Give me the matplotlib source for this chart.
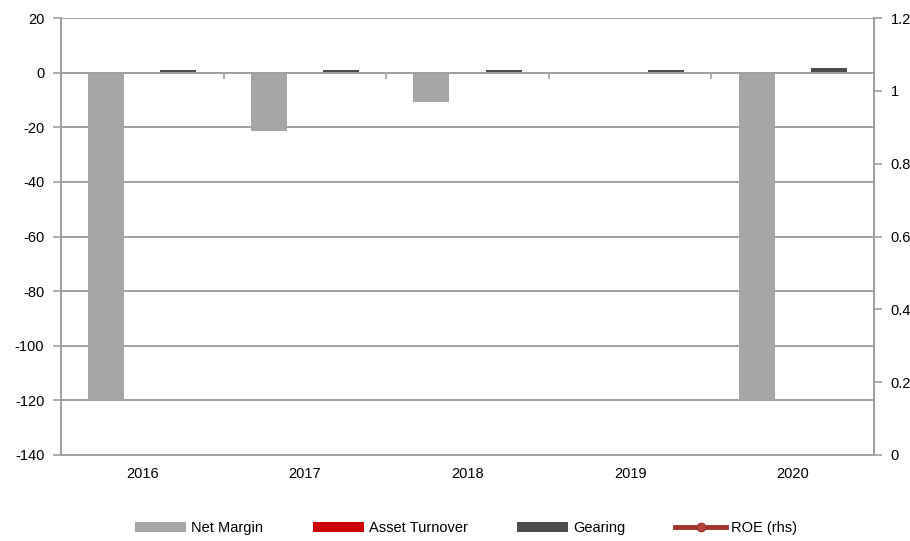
import matplotlib
matplotlib.use("Agg")
import matplotlib.pyplot as plt
import numpy as np
from matplotlib.ticker import FuncFormatter, FixedLocator

plt.rcParams['font.family'] = ['Liberation Sans', 'DejaVu Sans']
plt.rcParams['axes.unicode_minus'] = False

years = ['2016', '2017', '2018', '2019', '2020']
net_margin = [-120.0, -21.2, -10.6, 0.0, -120.0]
asset_turnover = [0.1, 0.2, 0.15, 0.1, 0.05]
gearing = [0.9, 0.9, 0.8, 0.9, 1.6]
roe = [-1.5, -0.3, -0.15, -0.05, -2.0]

left_ticks = list(range(-140, 21, 20))
right_ticks = [0, 0.2, 0.4, 0.6, 0.8, 1.0, 1.2]

c_nm = '#a6a6a6'
c_at = '#cc0000'
c_ge = '#4d4d4d'
c_roe = '#a0362a'
grid_c = '#a0a0a0'

fig = plt.figure(figsize=(9.10, 5.41), dpi=100)
ax = fig.add_axes([61/910, 1-455/541, (874-61)/910, (455-18)/541])
x = np.arange(len(years))
w = 0.222

ax.bar(x - w, net_margin, w, color=c_nm, label='Net Margin', zorder=3)
ax.bar(x, asset_turnover, w, color=c_at, label='Asset Turnover', zorder=3)
ax.bar(x + w, gearing, w, color=c_ge, label='Gearing', zorder=3)

ax.set_ylim(-140, 20)
ax.set_xlim(-0.5, len(years) - 0.5)
ax.yaxis.set_major_locator(FixedLocator(left_ticks))
ax.grid(axis='y', color=grid_c, linewidth=1.4, zorder=0)
ax.set_axisbelow(True)
ax.axhline(-140, color=grid_c, linewidth=1.4, clip_on=False, zorder=1)

ax.spines['top'].set_visible(False)
for s in ['left', 'right', 'bottom']:
    ax.spines[s].set_color(grid_c)
    ax.spines[s].set_linewidth(1.4)
ax.spines['bottom'].set_position(('data', 0))
ax.spines['bottom'].set_zorder(4)

ax.set_xticks(np.arange(len(years) + 1) - 0.5)
ax.set_xticklabels([])
ax.tick_params(axis='x', direction='out', length=4, width=1.2, color=grid_c)
ax.tick_params(axis='y', direction='out', length=6, width=1.2, color=grid_c,
               labelsize=10.5, pad=6)

sec = ax.secondary_xaxis(location=0)
sec.set_xticks(x)
sec.set_xticklabels(years)
sec.tick_params(length=0, labelsize=10.5, pad=9)
sec.spines['bottom'].set_visible(False)

ax2 = ax.twinx()
ax2.set_ylim(0, 1.2)
ax2.yaxis.set_major_locator(FixedLocator(right_ticks))
ax2.yaxis.set_major_formatter(FuncFormatter(lambda v, p: '{:g}'.format(round(v, 2))))
ax2.plot(x, roe, color=c_roe, linewidth=3.5, marker='o', markersize=6,
         markerfacecolor='#b5473b', markeredgecolor=c_roe, label='ROE (rhs)', zorder=5)
for s in ['top', 'left', 'bottom']:
    ax2.spines[s].set_visible(False)
ax2.spines['right'].set_color(grid_c)
ax2.spines['right'].set_linewidth(1.4)
ax2.tick_params(axis='y', direction='out', length=6, width=1.2, color=grid_c,
                labelsize=10.5, pad=6)

h1, l1 = ax.get_legend_handles_labels()
h2, l2 = ax2.get_legend_handles_labels()
fig.legend(h1 + h2, l1 + l2, loc='center', bbox_to_anchor=(466/910, 1-528/541),
           ncol=4, frameon=False, fontsize=10.5, handlelength=3.5,
           handleheight=0.65, columnspacing=3.4, handletextpad=0.35)

fig.savefig('out.png', dpi=100)
